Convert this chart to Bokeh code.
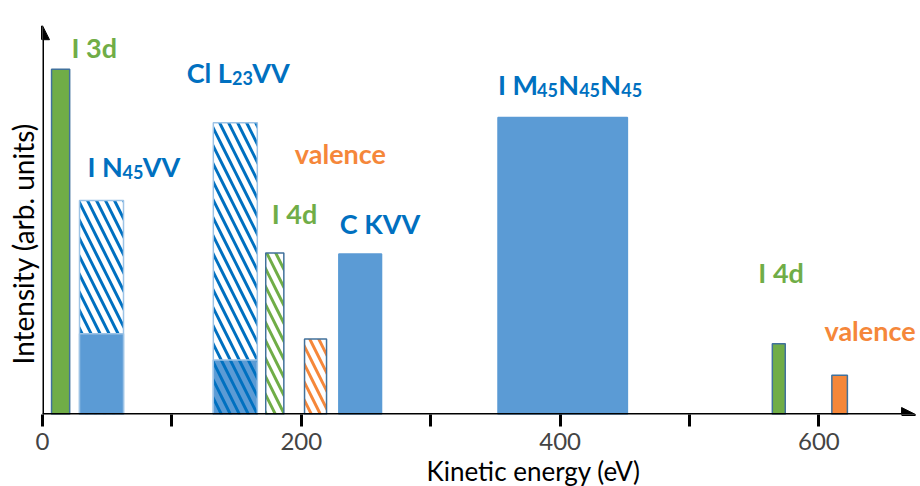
from bokeh.plotting import figure
from bokeh.models import (ColumnDataSource, FixedTicker, Arrow, NormalHead, Range1d, Title)
from bokeh.core.properties import value
from bokeh.embed import file_html
from bokeh.resources import INLINE

# ---------------- data ----------------
# solid bars
solid_x = [14, 245.5, 402, 569, 616]
solid_w = [14, 33, 100, 10, 12]
solid_h = [100, 46.5, 86, 20.5, 11.4]
solid_color = ["#70AD47", "#5B9BD5", "#5B9BD5", "#70AD47", "#F5873A"]
solid_line = ["#41719C", "#5B9BD5", "#5B9BD5", "#41719C", "#41719C"]

# hatched bars (full height)
hatch_x = [45.6, 149, 179.5, 211]
hatch_w = [34, 34, 14, 17]
hatch_h = [62, 84.5, 46.8, 21.9]
hatch_color = ["#0070C0", "#0070C0", "#70AD47", "#F5873A"]
hatch_line = ["#9DC3E6", "#9DC3E6", "#41719C", "#41719C"]

# filled lower parts of the hatched blue bars
low_x = [45.6, 149]
low_w = [34, 34]
low_h = [23.4, 15.8]
low_pattern = [" ", "\\"]

# peak labels (segments: normal text and subscripts)
lab_text = ["I 3d", "I N", "VV", "Cl L", "VV", "valence", "I 4d", "C KVV",
            "I M", "N", "N", "I 4d", "valence"]
lab_x = [22.4, 34.8, 77.4, 111.4, 162.0, 195, 177.2, 229.8,
         352, 398.5, 431.0, 553.2, 604.3]
lab_y = [103.2, 68.7, 68.7, 95.9, 95.9, 72.5, 55, 52,
         92.4, 92.4, 92.4, 37.8, 21.0]
lab_color = ["#70AD47", "#0070C0", "#0070C0", "#0070C0", "#0070C0", "#F5873A",
             "#70AD47", "#0070C0", "#0070C0", "#0070C0", "#0070C0", "#70AD47",
             "#F5873A"]

sub_text = ["45", "23", "45", "45", "45"]
sub_x = [61.9, 146.4, 382.2, 414.7, 447.2]
sub_y = [68.7, 95.9, 92.4, 92.4, 92.4]

x_ticks = [0, 100, 200, 300, 400, 500, 600]
x_tick_labels = {100: "", 300: "", 500: ""}

FONT = "Lato"

p = figure(width=920, height=486, output_backend="svg", toolbar_location=None,
           x_range=Range1d(0, 678.5), y_range=Range1d(0, 119.9),
           min_border_left=0, min_border_right=0, min_border_top=0,
           min_border_bottom=0)
p.outline_line_color = None
p.grid.visible = False
p.background_fill_color = "white"

# bars
p.vbar(x=hatch_x, width=hatch_w, top=hatch_h, bottom=0, fill_color="white",
       hatch_pattern="\\", hatch_color=hatch_color, hatch_scale=18,
       hatch_weight=3, line_color=hatch_line, line_width=1.5)
p.vbar(x=low_x, width=low_w, top=low_h, bottom=0, fill_color="#5B9BD5",
       hatch_pattern=low_pattern, hatch_color="#0070C0", hatch_scale=18,
       hatch_weight=3, line_color="#9DC3E6", line_width=1.5)
p.vbar(x=solid_x, width=solid_w, top=solid_h, bottom=0, fill_color=solid_color,
       line_color=solid_line, line_width=1.5)

# labels
src = ColumnDataSource(dict(x=lab_x, y=lab_y, text=lab_text, color=lab_color))
p.text(x="x", y="y", text="text", source=src, text_color="color",
       text_font=value(FONT), text_font_style="bold", text_font_size="27px",
       text_baseline="alphabetic", text_align="left", y_offset=-11)
p.text(x=sub_x, y=sub_y, text=sub_text, text_color="#0070C0",
       text_font=value(FONT), text_font_style="bold", text_font_size="18px",
       text_baseline="alphabetic", text_align="left", y_offset=-5)

# axes
xa = p.xaxis[0]
xa.ticker = FixedTicker(ticks=x_ticks)
xa.major_label_overrides = x_tick_labels
xa.axis_line_color = None
xa.major_tick_line_width = 3
xa.major_tick_in = 0
xa.major_tick_out = 12
xa.minor_tick_line_color = None
xa.major_label_text_font = FONT
xa.major_label_text_font_size = "24px"
xa.major_label_standoff = 6

ya = p.yaxis[0]
ya.ticker = FixedTicker(ticks=[])
ya.axis_line_color = None
ya.major_tick_line_color = None
ya.minor_tick_line_color = None

# axis titles as side-panel titles (so they can be shifted along the axis)
p.add_layout(Title(text="Intensity (arb. units)", align="left", offset=50,
                   text_font=FONT, text_font_size="28px", text_font_style="normal",
                   text_color="black", standoff=6), "left")
p.add_layout(Title(text="Kinetic energy (eV)", align="left", offset=384,
                   text_font=FONT, text_font_size="26px", text_font_style="normal",
                   text_color="black", standoff=0), "below")

# axis lines with arrow heads
p.add_layout(Arrow(end=NormalHead(size=14, fill_color="black", line_color="black"),
                   x_start=0, y_start=0, x_end=674.7, y_end=0,
                   line_width=3, line_color="black"))
p.add_layout(Arrow(end=NormalHead(size=14, fill_color="black", line_color="black"),
                   x_start=0, y_start=0, x_end=0, y_end=112.6,
                   line_width=3, line_color="black"))

open("out.html", "w").write(file_html(p, INLINE))
